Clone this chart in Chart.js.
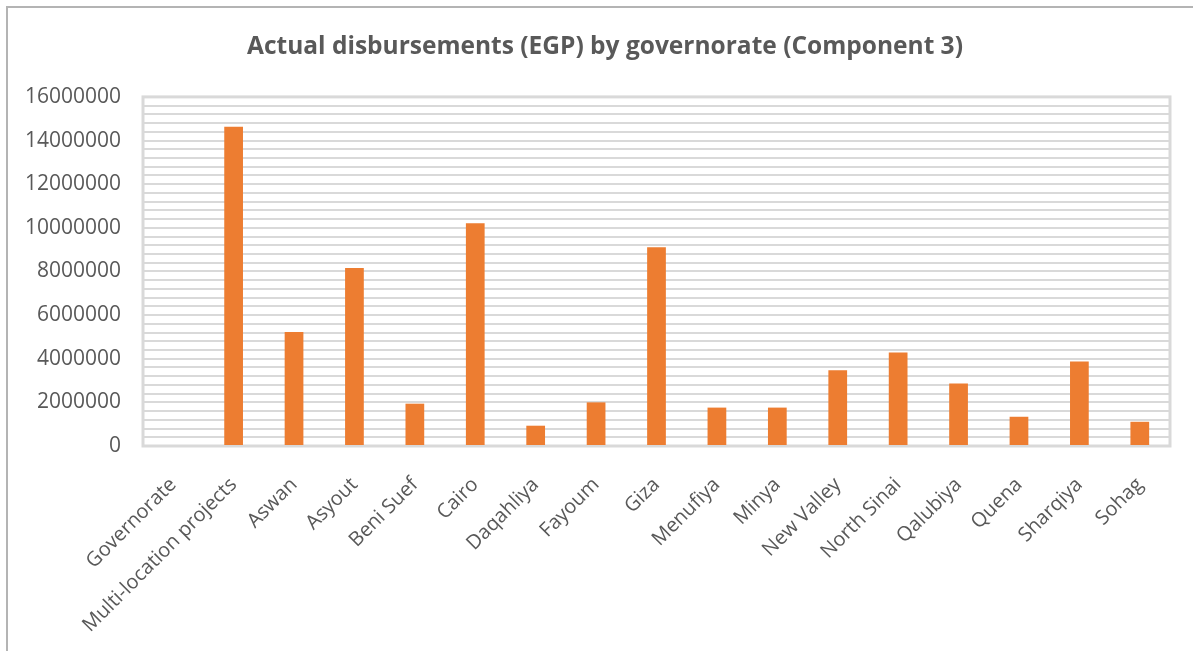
<!DOCTYPE html>
<html>
<head>
<meta charset="utf-8">
<title>Actual disbursements by governorate</title>
<script src="https://cdn.jsdelivr.net/npm/chart.js@4"></script>
<style>
    html, body { margin: 0; padding: 0; background: #fff; overflow: hidden; }
    #wrap { position: absolute; left: 0; top: 0; width: 1193px; height: 651px; }
    #frame {
        position: absolute; left: 6px; top: 6px; right: -10px; bottom: -10px;
        border-left: 2px solid #b4b4b4; border-top: 2px solid #b4b4b4;
        pointer-events: none;
    }
</style>
</head>
<body>
<div id="wrap">
    <canvas id="disbursement-chart"></canvas>
</div>
<div id="frame"></div>
<script>
// Governorates (first entry is the header row that ended up in the range)
const governorates = [
    'Governorate', 'Multi-location projects', 'Aswan', 'Asyout', 'Beni Suef',
    'Cairo', 'Daqahliya', 'Fayoum', 'Giza', 'Menufiya', 'Minya', 'New Valley',
    'North Sinai', 'Qalubiya', 'Quena', 'Sharqiya', 'Sohag'
];

// Actual disbursements in EGP
const disbursements = [
    0, 14630000, 5230000, 8160000, 1940000,
    10210000, 930000, 2000000, 9110000, 1760000, 1760000, 3470000,
    4280000, 2870000, 1340000, 3870000, 1110000
];

const axisMax = 16000000;
const gridStep = 400000;
const labelStep = 2000000;

const textColor = '#595959';
const gridColor = '#d9d9d9';

// Light grey box around the plotting area
const plotFrame = {
    id: 'plotFrame',
    beforeDatasetsDraw(chart) {
        const { ctx, chartArea } = chart;
        ctx.save();
        ctx.strokeStyle = gridColor;
        ctx.lineWidth = 3;
        ctx.strokeRect(chartArea.left, chartArea.top,
            chartArea.right - chartArea.left, chartArea.bottom - chartArea.top);
        ctx.restore();
    }
};

// Centre the title a little further right, roughly over the plot area
const titleShift = {
    id: 'titleShift',
    afterLayout(chart) {
        const title = chart.titleBlock;
        if (title) {
            title.left += 20;
            title.right += 20;
        }
    }
};

window.onload = function() {
    const ctx = document.getElementById('disbursement-chart').getContext('2d');
    new Chart(ctx, {
        type: 'bar',
        data: {
            labels: governorates,
            datasets: [{
                label: 'Actual disbursements (EGP)',
                data: disbursements,
                backgroundColor: '#ed7d31',
                categoryPercentage: 1,
                barPercentage: 0.31
            }]
        },
        options: {
            responsive: true,
            maintainAspectRatio: false,
            animation: false,
            layout: { padding: { left: 0, right: 23, top: 0, bottom: 0 } },
            plugins: {
                legend: { display: false },
                tooltip: { enabled: false },
                title: {
                    display: true,
                    text: 'Actual disbursements (EGP) by governorate (Component 3)',
                    color: textColor,
                    font: { family: 'Open Sans', size: 24.5, weight: 'bold' },
                    padding: { top: 32, bottom: 35.5 }
                }
            },
            scales: {
                x: {
                    grid: { display: false },
                    border: { display: false },
                    ticks: {
                        color: textColor,
                        font: { family: 'Open Sans', size: 20 },
                        minRotation: 45,
                        maxRotation: 45,
                        autoSkip: false,
                        padding: 19
                    },
                    afterFit(scale) { scale.height = 205; }
                },
                y: {
                    min: 0,
                    max: axisMax,
                    grid: { color: gridColor, lineWidth: 2, drawTicks: false },
                    border: { display: false },
                    ticks: {
                        stepSize: gridStep,
                        autoSkip: false,
                        color: textColor,
                        font: { family: 'Open Sans', size: 21 },
                        padding: 22,
                        callback: value => (value % labelStep === 0 ? String(value) : '')
                    },
                    afterFit(scale) { scale.width = 143; }
                }
            }
        },
        plugins: [plotFrame, titleShift]
    });
};
</script>
</body>
</html>
